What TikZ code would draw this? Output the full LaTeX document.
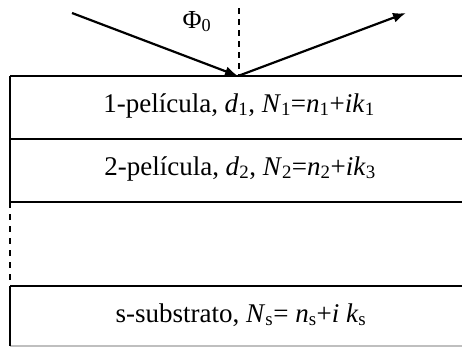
\documentclass[tikz,border=0pt]{standalone}
\usepackage{fontspec}
\setmainfont{Liberation Serif}
\usetikzlibrary{arrows.meta}
\begin{document}
\begin{tikzpicture}[x=1pt,y=-1pt,
  layer/.style={line width=1.6pt},
  ray/.style={line width=2.2pt,-{Latex[length=13pt,width=10pt]}},
  lbl/.style={font=\fontsize{27}{30}\selectfont, inner sep=0pt, anchor=base}]
\useasboundingbox (0,0) rectangle (462,348);
% layer boundaries
\coordinate (t0l) at (10,76);  \coordinate (t0r) at (462,76);
\coordinate (t1l) at (10,139); \coordinate (t1r) at (462,139);
\coordinate (t2l) at (10,202); \coordinate (t2r) at (462,202);
\coordinate (t3l) at (10,286); \coordinate (t3r) at (462,286);
\coordinate (t4l) at (10,346); \coordinate (t4r) at (462,346);
\draw[layer] (t0l) -- (t0r);
\draw[layer] (t1l) -- (t1r);
\draw[layer] (t2l) -- (t2r);
\draw[layer] (t3l) -- (t3r);
\draw[layer,gray!50] (t4l) -- (t4r);
\draw[layer] (t0l) -- (t2l);
\draw[layer,dashed,dash pattern=on 6pt off 6pt] (t2l) -- (t3l);
\draw[layer] (t3l) -- (t4l);
% rays
\coordinate (src) at (72,13);
\coordinate (hit) at (238,76);
\coordinate (out) at (406,13);
\coordinate (ntop) at (239,8);
\coordinate (nbot) at (239,75);
\draw[line width=1.4pt,dashed,dash pattern=on 6pt off 5pt] (ntop) -- (nbot);
\draw[ray] (src) -- (hit);
\draw[ray] (hit) -- (out);
\node[lbl,font=\fontsize{26}{30}\selectfont] (phi) at (197,28) {Φ\textsubscript{0}};
% labels
\node[lbl] (l1) at (239,112) {1-película, \textit{d}\textsubscript{1}, \textit{N}\textsubscript{1}=\textit{n}\textsubscript{1}+\textit{ik}\textsubscript{1}};
\node[lbl] (l2) at (240,175) {2-película, \textit{d}\textsubscript{2}, \textit{N}\textsubscript{2}=\textit{n}\textsubscript{2}+\textit{ik}\textsubscript{3}};
\node[lbl] (l3) at (241,322) {s-substrato, \textit{N}\textsubscript{s}= \textit{n}\textsubscript{s}+\textit{i k}\textsubscript{s}};
\end{tikzpicture}
\end{document}
